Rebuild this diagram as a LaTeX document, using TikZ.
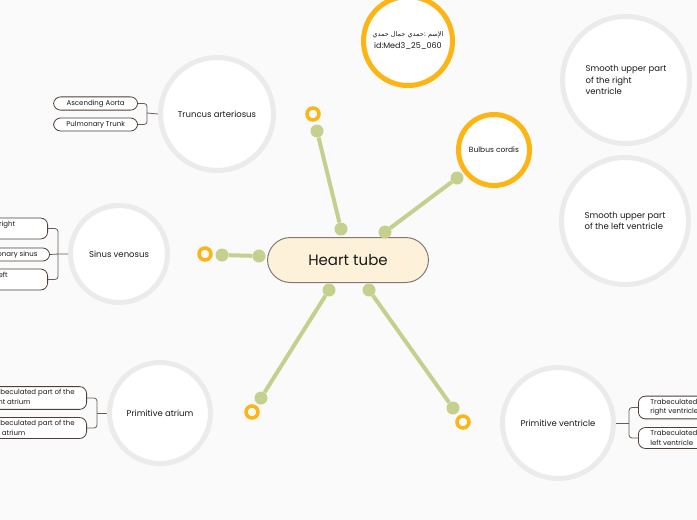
\documentclass[tikz,border=0pt]{standalone}
\usepackage{fontspec}
\setmainfont{Poppins}
\newfontfamily\arabicfont[Script=Arabic]{DejaVu Sans}
\TeXXeTstate=1
\usetikzlibrary{positioning,calc}
\definecolor{paper}{HTML}{FAFAFA}
\definecolor{ring}{HTML}{EBEBEB}
\definecolor{gold}{HTML}{FDB515}
\definecolor{sage}{HTML}{C4D18E}
\definecolor{cream}{HTML}{FDF2D9}
\definecolor{rim}{HTML}{807A75}
\definecolor{bark}{HTML}{4D4038}
\definecolor{ink}{HTML}{1A1A1A}

\begin{document}
\begin{tikzpicture}[x=1pt, y=-1pt,
  every node/.style={font=\fontsize{8.5}{11.5}\selectfont, text=ink},
  topic/.style={circle, draw=ring, line width=5pt, fill=white, align=center},
  goldtopic/.style={circle, draw=gold, line width=5pt, fill=white, align=center},
  hub/.style={draw=rim, fill=cream, rounded corners=23pt, minimum width=161pt,
              minimum height=45pt, line width=1pt, font=\fontsize{15}{17}\selectfont},
  bead/.style={circle, fill=sage, inner sep=0pt, minimum size=13pt},
  knob/.style={circle, draw=gold, line width=3.5pt, inner sep=0pt, minimum size=12pt},
  spoke/.style={sage, line width=4pt},
  leaf/.style={draw=bark, rounded corners=7pt, fill=white, align=left,
               inner xsep=12pt, inner ysep=3pt, line width=0.8pt,
               font=\fontsize{7}{9.5}\selectfont},
  brk/.style={draw=bark!85, line width=0.8pt, rounded corners=3pt}
]
\useasboundingbox (0,0) rectangle (697,520);
\clip (0,0) rectangle (697,520);
\fill[paper] (0,0) rectangle (697,520);

% main topic and its spokes
\node[hub] (heart) at (348,260) {Heart tube};

\node[bead] (tl-a) at (341,229) {};
\node[bead] (tl-b) at (317,131) {};
\node[knob] (tl-k) at (313,114) {};
\node[bead] (tr-a) at (385,232) {};
\node[bead] (tr-b) at (457,178) {};
\node[bead] (ml-a) at (259,256) {};
\node[bead] (ml-b) at (222,255) {};
\node[knob] (ml-k) at (205,254) {};
\node[bead] (bl-a) at (329,290) {};
\node[bead] (bl-b) at (261,398) {};
\node[knob] (bl-k) at (252,412) {};
\node[bead] (br-a) at (369,290) {};
\node[bead] (br-b) at (453,408) {};
\node[knob] (br-k) at (463,422) {};

\draw[spoke] (tl-a) -- (tl-b);
\draw[spoke] (tr-a) -- (tr-b);
\draw[spoke] (ml-a) -- (ml-b);
\draw[spoke] (bl-a) -- (bl-b);
\draw[spoke] (br-a) -- (br-b);

% floating topics
\node[goldtopic, minimum size=89pt, font=\fontsize{8}{12}\selectfont] (name) at (408,41)
  {{\arabicfont\fontsize{6.5}{12}\selectfont\beginR الإسم :حمدي جمال حمدي\endR}\\id:Med3\_25\_060};
\node[goldtopic, minimum size=71pt, font=\fontsize{7.5}{9}\selectfont] (bulbus) at (494,150) {Bulbus cordis};
\node[topic, minimum size=113pt] (truncus) at (217,114) {Truncus arteriosus};
\node[topic, minimum size=97pt] (sinus) at (119,254) {Sinus venosus};
\node[topic, minimum size=101pt] (atrium) at (160,413) {Primitive atrium};
\node[topic, minimum size=111pt] (ventricle) at (558,423) {Primitive ventricle};
\node[topic, minimum size=127pt, align=left] (smooth-r) at (626,80)
  {Smooth upper part\\of the right\\ventricle};
\node[topic, minimum size=127pt, align=left] (smooth-l) at (625,221)
  {Smooth upper part\\of the left ventricle};

% subtopics of the truncus
\node[leaf, minimum width=84pt, anchor=east] (aorta) at (138,103.5) {Ascending Aorta};
\node[leaf, minimum width=84pt, anchor=east] (trunk) at (138,124.5) {Pulmonary Trunk};
\coordinate (ta-j) at (147,113);
\draw[brk] (aorta.east) -| (ta-j) |- (trunk.east);
\draw[brk] (ta-j) -- (truncus.west);

% subtopics of the sinus venosus
\node[leaf, text width=106pt, anchor=east] (sv-r) at (48,228.5) {Smooth part of the right\\atrium};
\node[leaf, anchor=east] (sv-c) at (50,254.5) {Coronary sinus};
\node[leaf, text width=108pt, anchor=east] (sv-l) at (48,279.5) {Oblique vein of the left\\atrium};
\coordinate (sv-j) at (58,254);
\draw[brk] (sv-r.east) -| (sv-j) |- (sv-l.east);
\draw[brk] (sv-c.east) -- (sv-j) -- (sinus.west);

% subtopics of the atrium
\node[leaf, anchor=east] (pa-r) at (87,398) {Trabeculated part of the\\right atrium};
\node[leaf, anchor=east] (pa-l) at (87,428) {Trabeculated part of the\\left atrium};
\coordinate (pa-j) at (97,413);
\draw[brk] (pa-r.east) -| (pa-j) |- (pa-l.east);
\draw[brk] (pa-j) -- (atrium.west);

% subtopics of the ventricle
\node[leaf, anchor=west] (pv-r) at (638,407.5) {Trabeculated part of the\\right ventricle};
\node[leaf, anchor=west] (pv-l) at (638,438) {Trabeculated part of the\\left ventricle};
\coordinate (pv-j) at (629,423);
\draw[brk] (pv-r.west) -| (pv-j) |- (pv-l.west);
\draw[brk] (pv-j) -- (ventricle.east);
\end{tikzpicture}
\end{document}
